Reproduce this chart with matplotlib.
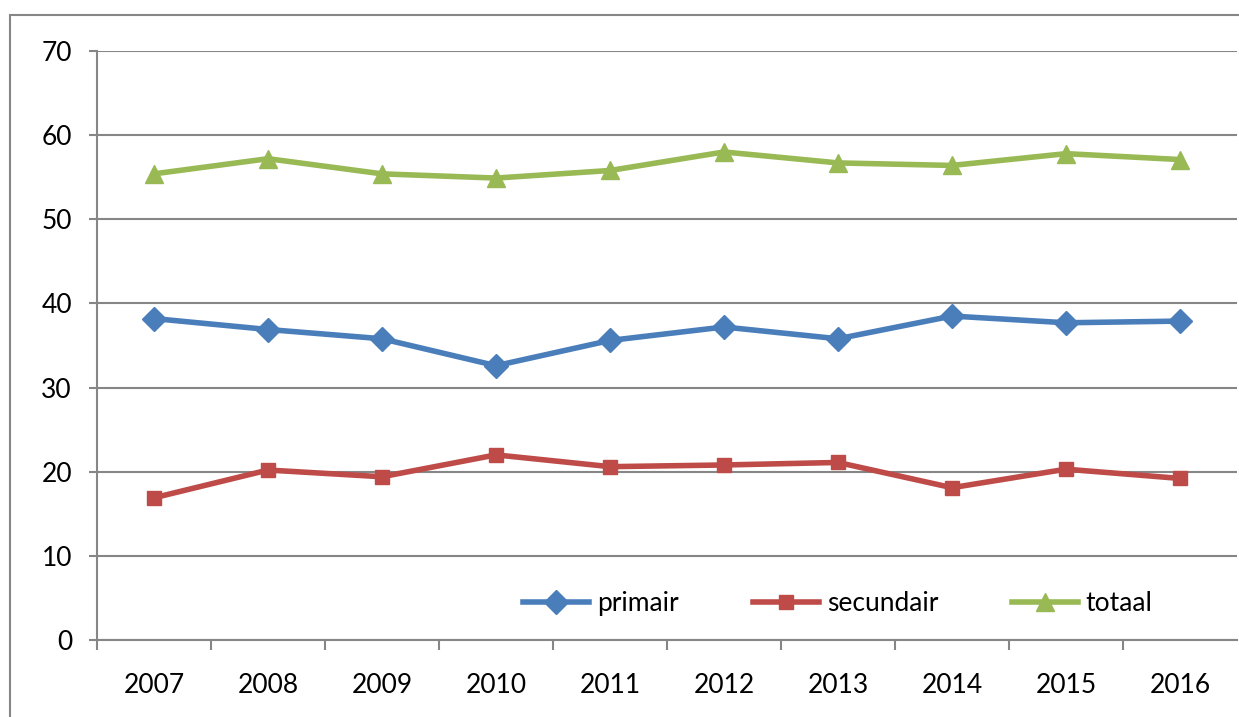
import matplotlib.pyplot as plt
from matplotlib.patches import Rectangle

years = ["2007", "2008", "2009", "2010", "2011", "2012", "2013", "2014", "2015", "2016"]
primair = [38.2, 36.9, 35.8, 32.6, 35.6, 37.2, 35.8, 38.5, 37.7, 37.9]
secundair = [16.9, 20.2, 19.4, 22.0, 20.6, 20.8, 21.1, 18.1, 20.3, 19.2]
totaal = [55.4, 57.2, 55.4, 54.9, 55.8, 58.0, 56.7, 56.4, 57.8, 57.1]

plt.rcParams['font.family'] = ['Lato', 'DejaVu Sans']
grey = '#868686'

W, H = 1239, 717
fig = plt.figure(figsize=(W / 100, H / 100), dpi=100)

# outer chart frame
fig.patches.append(Rectangle((10 / W, -0.05), 1.2, 1 - 15 / H + 0.05,
                             transform=fig.transFigure, fill=False,
                             edgecolor=grey, linewidth=1.5))

ax = fig.add_axes([97 / W, 1 - 640 / H, 1140 / W, 589 / H])
x = range(len(years))

ax.plot(x, primair, color='#4A7EBB', lw=4, marker='D', ms=12, label='primair')
ax.plot(x, secundair, color='#BE4B48', lw=4, marker='s', ms=10, label='secundair')
ax.plot(x, totaal, color='#98B954', lw=4, marker='^', ms=13, label='totaal')

ax.set_xlim(-0.5, len(years) - 0.5)
ax.set_ylim(0, 70)
ax.set_yticks(range(0, 71, 10))
ax.set_xticks(list(x))
ax.set_xticklabels(years)
ax.set_xticks([i + 0.5 for i in range(-1, len(years) - 1)], minor=True)

ax.grid(axis='y', color=grey, lw=1.5)
ax.set_axisbelow(True)
for s in ['top', 'right']:
    ax.spines[s].set_visible(False)
for s in ['left', 'bottom']:
    ax.spines[s].set_color(grey)
    ax.spines[s].set_linewidth(1.5)

ax.tick_params(axis='y', length=6, width=1.5, color=grey, pad=12, labelsize=19)
ax.tick_params(axis='x', which='major', length=0, pad=24, labelsize=19)
ax.tick_params(axis='x', which='minor', length=7, width=1.5, color=grey)

ax.legend(loc='center', bbox_to_anchor=(0.65, 0.062), ncol=3, frameon=False,
          fontsize=19, handlelength=2.5, columnspacing=2.8, handletextpad=0.3)

fig.savefig('out.png', dpi=100)
